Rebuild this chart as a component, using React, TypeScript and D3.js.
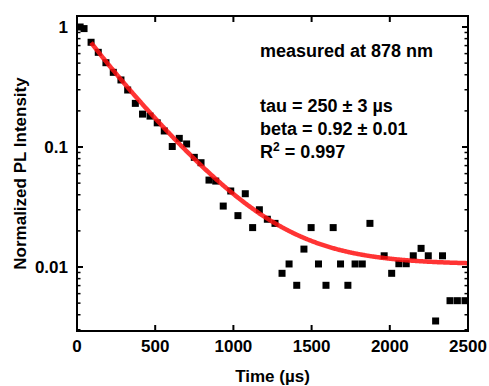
import React from "react";
import * as d3 from "d3";

const times = [20, 45, 90, 136, 185, 232, 281, 324, 373, 419, 467, 513, 558, 609, 654, 701, 750, 793, 844, 887, 935, 983, 1029, 1076, 1123, 1166, 1217, 1266, 1311, 1356, 1405, 1451, 1497, 1544, 1592, 1638, 1685, 1732, 1778, 1824, 1873, 1964, 2012, 2058, 2105, 2150, 2200, 2246, 2293, 2337, 2385, 2432, 2481];
const intensity = [1.0, 0.97, 0.746, 0.615, 0.504, 0.419, 0.362, 0.2985, 0.231, 0.188, 0.181, 0.159, 0.136, 0.101, 0.118, 0.106, 0.082, 0.074, 0.053, 0.052, 0.0322, 0.043, 0.0268, 0.0408, 0.0213, 0.030, 0.025, 0.0231, 0.00886, 0.0106, 0.00704, 0.0141, 0.0213, 0.0106, 0.00704, 0.0213, 0.0106, 0.00704, 0.0106, 0.0106, 0.0231, 0.0124, 0.00886, 0.01065, 0.01065, 0.0124, 0.0143, 0.0124, 0.00355, 0.0124, 0.00524, 0.00524, 0.00524];

const fitA = 1.08;
const fitTau = 250;
const fitBeta = 0.92;
const fitY0 = 0.0105;
const fitStart = 90;
const fitEnd = 2500;

const xTicks = [0, 500, 1000, 1500, 2000, 2500];
const yMajor = [1, 0.1, 0.01];
const yTickLabels = ["1", "0.1", "0.01"];
const annotations = ["measured at 878 nm", "tau = 250 ± 3 µs", "beta = 0.92 ± 0.01"];

export default function App() {
  const W = 489, H = 386;
  const L = 77, R = 468, T = 16, B = 331;
  const x = d3.scaleLinear().domain([0, 2500]).range([L, R]);
  const y = d3.scaleLog().domain([0.002929, 1.235]).range([B, T]);
  const font = "'Liberation Sans', Arial, sans-serif";

  const minor: number[] = [];
  for (const dec of [0.001, 0.01, 0.1]) {
    for (let k = 2; k <= 9; k++) {
      const v = dec * k;
      if (v > 0.002929 && v < 1.235) minor.push(v);
    }
  }

  const fitPts: [number, number][] = d3.range(fitStart, fitEnd + 1, 5).map((t) => [t, fitA * Math.exp(-Math.pow(t / fitTau, fitBeta)) + fitY0]);
  const line = d3.line<[number, number]>().x((d) => x(d[0])).y((d) => y(d[1]));

  const sq = 7;
  return (
    <svg width={W} height={H} style={{ position: "absolute", left: 0, top: 0 }} fontFamily={font}>
      <rect x={0} y={0} width={W} height={H} fill="white" />
      {times.map((t, i) => (
        <rect key={i} x={x(t) - sq / 2} y={y(intensity[i]) - sq / 2} width={sq} height={sq} fill="black" />
      ))}
      <path d={line(fitPts) || ""} fill="none" stroke="#ff1010" strokeOpacity={0.85} strokeWidth={4.5} />
      {/* frame */}
      <rect x={L} y={T} width={R - L} height={B - T} fill="none" stroke="black" strokeWidth={2} />
      {/* x ticks */}
      {xTicks.map((t) => (
        <g key={"xt" + t}>
          <line x1={x(t)} x2={x(t)} y1={B} y2={B - 6} stroke="black" strokeWidth={2} />
          <line x1={x(t)} x2={x(t)} y1={T} y2={T + 6} stroke="black" strokeWidth={2} />
          <text x={x(t)} y={352} textAnchor="middle" fontSize={17} fontWeight="bold">{t}</text>
        </g>
      ))}
      {/* y ticks */}
      {yMajor.map((v, i) => (
        <g key={"ym" + v}>
          <line x1={L} x2={L + 6} y1={y(v)} y2={y(v)} stroke="black" strokeWidth={2} />
          <line x1={R} x2={R - 6} y1={y(v)} y2={y(v)} stroke="black" strokeWidth={2} />
          <text x={68} y={y(v)} dy="0.35em" textAnchor="end" fontSize={17} fontWeight="bold">{yTickLabels[i]}</text>
        </g>
      ))}
      {minor.map((v) => (
        <g key={"yn" + v}>
          <line x1={L} x2={L + 3.5} y1={y(v)} y2={y(v)} stroke="black" strokeWidth={1.5} />
          <line x1={R} x2={R - 3.5} y1={y(v)} y2={y(v)} stroke="black" strokeWidth={1.5} />
        </g>
      ))}
      {/* axis titles */}
      <text x={(L + R) / 2} y={382} textAnchor="middle" fontSize={17} fontWeight="bold">Time (µs)</text>
      <text transform={`translate(26, ${(T + B) / 2}) rotate(-90)`} textAnchor="middle" fontSize={17} fontWeight="bold">Normalized PL Intensity</text>
      {/* annotations */}
      <text x={260} y={57} fontSize={18} fontWeight="bold">{annotations[0]}</text>
      <text x={260} y={112} fontSize={18} fontWeight="bold">{annotations[1]}</text>
      <text x={260} y={135} fontSize={18} fontWeight="bold">{annotations[2]}</text>
      <text x={260} y={158} fontSize={18} fontWeight="bold">
        R<tspan fontSize={12} dy={-7}>2</tspan><tspan dy={7}> = 0.997</tspan>
      </text>
    </svg>
  );
}
